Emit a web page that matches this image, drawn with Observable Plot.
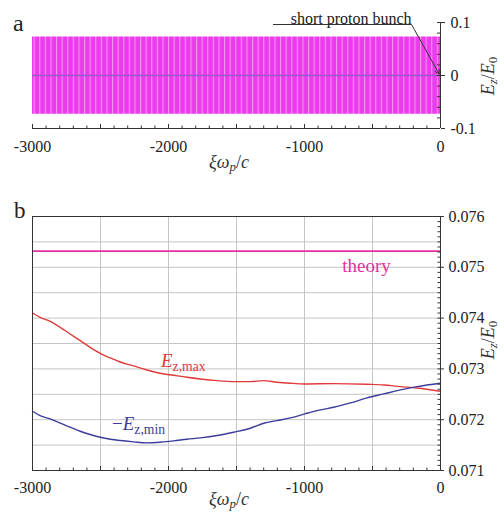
<!DOCTYPE html>
<html><head><meta charset="utf-8">
<script src="https://cdn.jsdelivr.net/npm/d3@7"></script>
<script src="https://cdn.jsdelivr.net/npm/@observablehq/plot@0.6"></script>
<style>
body{margin:0;background:#fff;width:504px;height:512px;overflow:hidden;position:relative;font-family:"Liberation Serif",serif}
#a,#b{position:absolute;left:0}
#a{top:0}#b{top:190px}
svg text{font-family:"Liberation Serif",serif !important}
</style></head><body><div id="a"></div><div id="b"></div>
<script>
// ---------- data ----------
// panel a: envelope of the oscillating wakefield Ez/E0
const envXi = [-3000, 0];
const envHigh = [0.0725, 0.0725];
const envLow = [-0.0732, -0.0732];
// panel b
const theoryVal = 0.07532;
const maxXi = [-3000,-2944,-2870,-2796,-2723,-2649,-2576,-2502,-2428,-2355,-2257,-2159,-2061,-1962,-1864,-1766,-1643,-1521,-1398,-1300,-1202,-1104,-998,-785,-540,-417,-294,-172,0];
const ezMax = [0.07410,0.074014,0.073936,0.073818,0.073687,0.073556,0.073425,0.073307,0.073215,0.073136,0.073058,0.072979,0.072914,0.072874,0.072835,0.072802,0.072769,0.072750,0.072750,0.072769,0.072737,0.072717,0.072704,0.072710,0.072697,0.072684,0.072651,0.072625,0.072560];
const minXi = [-3000,-2944,-2870,-2796,-2723,-2649,-2576,-2502,-2428,-2355,-2257,-2159,-2061,-1962,-1864,-1766,-1643,-1521,-1398,-1300,-1202,-1104,-998,-883,-785,-662,-540,-417,-294,-172,0];
const ezMinNeg = [0.072166,0.072081,0.072016,0.071931,0.071852,0.071773,0.071708,0.071655,0.071616,0.071590,0.071564,0.071544,0.071557,0.071583,0.071616,0.071642,0.071688,0.071754,0.071832,0.071931,0.071983,0.072035,0.072114,0.072193,0.072245,0.072330,0.072429,0.072507,0.072586,0.072651,0.072717];
// ticks
const xTickLabels = [-3000,-2000,-1000,0];
const xMid = [-3000,-2500,-2000,-1500,-1000,-500,0];
const xMinor = d3.range(-3000, 1, 100);
const yTicksA = [-0.1, 0, 0.1];
const yMinorA = d3.range(-0.1, 0.1001, 0.02);
const yTicksB = [0.071,0.072,0.073,0.074,0.075,0.076];
const yGridB = d3.range(0.071, 0.07601, 0.0005);
const yMinorB = d3.range(0.071, 0.07601, 0.0001);

const FONT = "Liberation Serif";
const fmt = d => String(d);
const axisCol = "#333";
const PW = 408; // plot width

function rich(svg, x, y, parts, opts = {}) {
  const size = opts.size || 18;
  const t = d3.select(svg).append("text")
    .attr("x", x).attr("y", y)
    .style("font-family", `"${FONT}", serif`)
    .attr("font-size", size)
    .attr("fill", opts.fill || "#333")
    .attr("text-anchor", opts.anchor || "start");
  if (opts.rotate) t.attr("transform", `rotate(${opts.rotate},${x},${y})`);
  for (const p of parts) {
    const s = t.append("tspan").text(p.t);
    if (p.i) s.attr("font-style", "italic");
    if (p.sub) s.attr("font-size", size * 0.72).attr("dy", p.sub);
    if (p.dy) s.attr("dy", p.dy);
  }
  return t;
}

// ---------- panel a ----------
const PHa = 106;
const pa = Plot.plot({
  width: 504, height: 190,
  marginLeft: 32, marginRight: 64, marginTop: 22, marginBottom: 62,
  style: {fontFamily: FONT, fontSize: "16px", color: "#222", background: "transparent"},
  x: {domain: [-3000, 0]},
  y: {domain: [-0.1, 0.1]},
  marks: [
    Plot.areaY(envXi, {x: d => d, y1: (d, i) => envLow[i], y2: (d, i) => envHigh[i], fill: "url(#stripes)"}),
    Plot.ruleY([0], {stroke: "#9a58c8", strokeWidth: 1.3}),
    Plot.ruleY([-0.1], {stroke: axisCol}),
    Plot.ruleX([0], {stroke: axisCol}),
    Plot.ruleX(xMinor, {x: d => d, insetTop: PHa - 2.5, stroke: axisCol}),
    Plot.ruleX(xMid, {x: d => d, insetTop: PHa - 4, stroke: axisCol}),
    Plot.axisX({ticks: xTickLabels, tickSize: 0, tickPadding: 12, tickFormat: fmt, label: null}),
    Plot.ruleY(yMinorA, {y: d => d, insetLeft: PW - 3, stroke: axisCol}),
    Plot.axisY({anchor: "right", ticks: yTicksA, tickSize: 4, tickPadding: 6, tickFormat: fmt, label: null, stroke: axisCol}),
    Plot.ruleY([0.0962], {x1: -1228, x2: -213, stroke: axisCol}),
    Plot.text(["short proton bunch"], {x: -213, y: 0.0962, text: d => d, textAnchor: "end", lineAnchor: "bottom", dy: -1, fontSize: 16, fill: "#222"}),
    Plot.arrow([0], {x1: -213, y1: 0.0962, x2: -10, y2: 0.003, stroke: axisCol, headLength: 7, strokeWidth: 1})
  ]
});
{
  const defs = d3.select(pa).insert("defs", ":first-child");
  const pat = defs.append("pattern").attr("id", "stripes").attr("patternUnits", "userSpaceOnUse")
    .attr("width", 5.6).attr("height", 200);
  pat.append("rect").attr("width", 5.6).attr("height", 200).attr("fill", "#ee3aee");
  pat.append("rect").attr("x", 0).attr("width", 1.1).attr("height", 200).attr("fill", "#f592f1");
}
document.getElementById("a").append(pa);
rich(pa, 13, 31, [{t: "a"}], {size: 24, fill: "#222"});
rich(pa, 229, 168, [{t: "ξω", i: 1}, {t: "p", i: 1, sub: 3}, {t: "/", dy: -3}, {t: "c", i: 1}], {size: 18, anchor: "middle"});
rich(pa, 494, 76, [{t: "E", i: 1}, {t: "z", i: 1, sub: 3}, {t: "/", dy: -3}, {t: "E", i: 1}, {t: "0", sub: 3}], {size: 18, anchor: "middle", rotate: -90});

// ---------- panel b ----------
const PHb = 254;
const pb = Plot.plot({
  width: 504, height: 322,
  marginLeft: 32, marginRight: 64, marginTop: 26, marginBottom: 42,
  style: {fontFamily: FONT, fontSize: "16px", color: "#222", background: "transparent"},
  x: {domain: [-3000, 0]},
  y: {domain: [0.071, 0.076]},
  marks: [
    Plot.gridX({ticks: xMid, stroke: "#c4c4c4", strokeOpacity: 1}),
    Plot.gridY({ticks: yGridB, stroke: "#c4c4c4", strokeOpacity: 1}),
    Plot.ruleY([theoryVal], {stroke: "#e0319e", strokeWidth: 1.8}),
    Plot.lineY(maxXi, {x: d => d, y: (d, i) => ezMax[i], stroke: "#e03a3a", strokeWidth: 1.4, curve: "monotone-x"}),
    Plot.lineY(minXi, {x: d => d, y: (d, i) => ezMinNeg[i], stroke: "#3c3c9c", strokeWidth: 1.4, curve: "monotone-x"}),
    Plot.frame({stroke: axisCol}),
    Plot.ruleX(xMinor, {x: d => d, insetTop: PHb - 2.5, stroke: axisCol}),
    Plot.ruleX(xMid, {x: d => d, insetTop: PHb - 4, stroke: axisCol}),
    Plot.axisX({ticks: xTickLabels, tickSize: 0, tickPadding: 11, tickFormat: fmt, label: null}),
    Plot.ruleY(yMinorB, {y: d => d, insetLeft: PW - 2.5, stroke: axisCol}),
    Plot.axisY({anchor: "right", ticks: yTicksB, tickSize: 3, tickPadding: 5, tickFormat: fmt, label: null, stroke: axisCol}),
    Plot.text(["theory"], {x: -544, y: 0.07503, text: d => d, fontSize: 19, fill: "#e0319e"})
  ]
});
document.getElementById("b").append(pb);
rich(pb, 14, 28, [{t: "b"}], {size: 23, fill: "#222"});
rich(pb, 161, 177, [{t: "E", i: 1}, {t: "z,max", sub: 4}], {size: 19, fill: "#e03a3a"});
rich(pb, 112, 240, [{t: "−"}, {t: "E", i: 1}, {t: "z,min", sub: 4}], {size: 19, fill: "#3c3c9c"});
rich(pb, 229, 315, [{t: "ξω", i: 1}, {t: "p", i: 1, sub: 3}, {t: "/", dy: -3}, {t: "c", i: 1}], {size: 18, anchor: "middle"});
rich(pb, 494, 150, [{t: "E", i: 1}, {t: "z", i: 1, sub: 3}, {t: "/", dy: -3}, {t: "E", i: 1}, {t: "0", sub: 3}], {size: 18, anchor: "middle", rotate: -90});
</script></body></html>
